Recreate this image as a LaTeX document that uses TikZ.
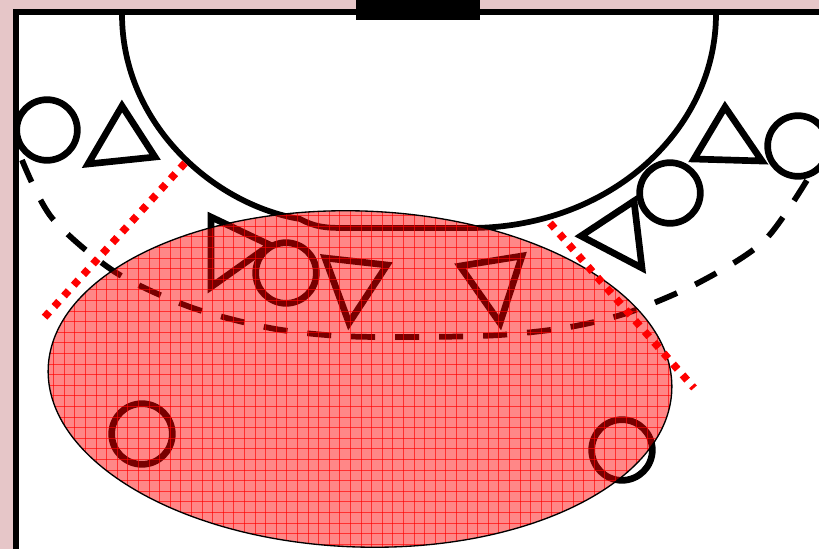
\documentclass[tikz,border=0pt]{standalone}
\usepackage{xcolor}
\usetikzlibrary{arrows.meta, positioning}
\definecolor{wallpink}{HTML}{E6C6C8}
\begin{document}
\begin{tikzpicture}[
  x=0.75pt, y=-0.75pt,
  player/.style={draw=black, circle, line width=5pt, minimum size=45.5pt, inner sep=0pt},
  defender/.style={draw=black, line width=5pt, miter limit=10},
  court/.style={draw=black, line width=4.8pt},
  arcline/.style={draw=black, line width=4.3pt},
  freeline/.style={draw=black, line width=4.3pt, dash pattern=on 18pt off 15pt},
  zone/.style={draw=red, line width=5.6pt, dash pattern=on 5.2pt off 5.6pt},
]
  \useasboundingbox (0,0) rectangle (819,549);
  \clip (0,0) rectangle (819,549);
  \fill[wallpink] (0,0) rectangle (819,549);
  \fill[white] (16,12) rectangle (830,560);
  \draw[court] (16,12) rectangle (830,560);
  \fill[black] (356,0) rectangle (480,20);

  % goal area and free throw line
  \draw[arcline] (122,14) .. controls (122,125) and (215,205) .. (300,219)
    .. controls (315,227) and (325,228) .. (345,228) -- (470,228)
    .. controls (610,228) and (716,130) .. (716,14);
  \draw[freeline] plot[smooth] coordinates {(22,160) (52,218) (115,272) (190,307) (270,328)
    (340,336) (420,337) (500,335) (570,327) (630,312) (700,282) (765,240) (812,172)};

  % attackers
  \node[player] (attackera) at (47,130) {};
  \node[player] (attackerb) at (286,273) {};
  \node[player] (attackerc) at (142,434) {};
  \node[player] (attackerd) at (622,450) {};
  \node[player] (attackere) at (670,193) {};
  \node[player] (attackerf) at (798,146) {};

  % defenders
  \draw[defender] (122,106) -- (88,164) -- (155,157) -- cycle;
  \draw[defender] (211,217) -- (270,245) -- (211,287) -- cycle;
  \draw[defender] (325,258) -- (387,265) -- (349,323) -- cycle;
  \draw[defender] (460,266) -- (522,256) -- (500,323) -- cycle;
  \draw[defender] (725,107) -- (694,159) -- (762,161) -- cycle;
  \draw[defender] (634,201) -- (581,236) -- (642,268) -- cycle;

  % shaded zone
  \begin{scope}
    \clip[rotate around={-2:(360,379)}] (360,379) ellipse [x radius=312, y radius=168];
    \fill[red, opacity=0.47] (40,200) rectangle (680,549);
    \foreach \gx in {0,...,62} {
      \draw[red, opacity=0.65, line width=0.5pt] (43+\gx*10.6,200) -- (43+\gx*10.6,549);
    }
    \foreach \gy in {0,...,33} {
      \draw[red, opacity=0.65, line width=0.5pt] (40,205+\gy*10.6) -- (680,205+\gy*10.6);
    }
  \end{scope}
  \draw[black, line width=1pt, rotate around={-2:(360,379)}] (360,379) ellipse [x radius=312, y radius=168];

  \draw[zone] (185,163) -- (42,320);
  \draw[zone] (550,223) -- (694,388);
\end{tikzpicture}
\end{document}
